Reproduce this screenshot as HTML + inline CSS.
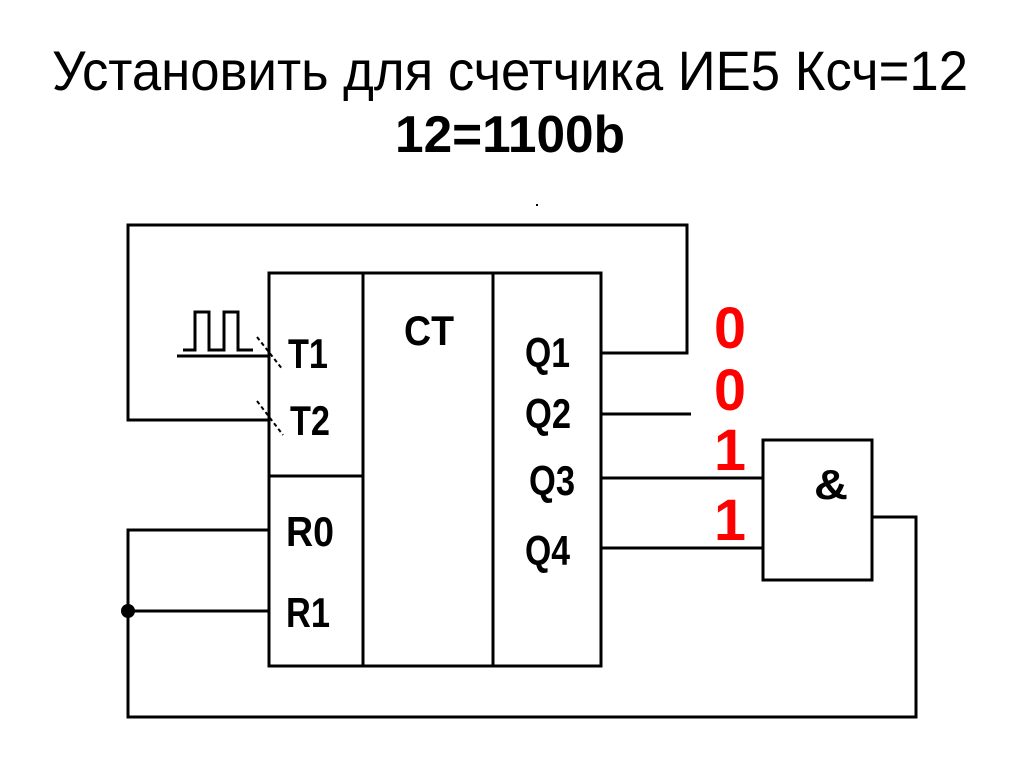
<!DOCTYPE html>
<html><head><meta charset="utf-8"><style>html,body{margin:0;padding:0;background:#fff;}svg{display:block}</style></head>
<body>
<svg width="1024" height="767" viewBox="0 0 1024 767" xmlns="http://www.w3.org/2000/svg" font-family="Liberation Sans, sans-serif">
<rect width="1024" height="767" fill="#fff"/>
<text x="52" y="90" font-size="56" textLength="916" lengthAdjust="spacingAndGlyphs">Установить для счетчика  ИЕ5  Ксч=12</text>
<text x="395" y="152" font-size="52" font-weight="bold" textLength="230" lengthAdjust="spacingAndGlyphs">12=1100b</text>
<rect x="536" y="204" width="2" height="2" fill="#000"/>
<g fill="none" stroke="#000" stroke-width="3">
<rect x="269" y="273" width="332" height="393"/>
<line x1="363" y1="273" x2="363" y2="666"/>
<line x1="493" y1="273" x2="493" y2="666"/>
<line x1="269" y1="476" x2="363" y2="476"/>
<polyline points="601,353 687,353 687,225 128,225 128,420 269,420"/>
<line x1="177" y1="356" x2="269" y2="356"/>
<polyline points="183,350 195,350 195,312 209,312 209,350 224,350 224,312 238,312 238,350 253,350"/>
<line x1="601" y1="414" x2="691" y2="414"/>
<line x1="601" y1="478" x2="763" y2="478"/>
<line x1="601" y1="548" x2="763" y2="548"/>
<rect x="763" y="440" width="109" height="140"/>
<polyline points="872,517 916,517 916,717 128,717 128,530 269,530"/>
<line x1="128" y1="611" x2="269" y2="611"/>
</g>
<g stroke="#000" stroke-width="2" stroke-dasharray="4,3">
<line x1="257" y1="337" x2="283" y2="370"/>
<line x1="257" y1="401" x2="283" y2="435"/>
</g>
<circle cx="128" cy="611" r="7" fill="#000"/>
<g font-size="42" font-weight="bold" fill="#000" lengthAdjust="spacingAndGlyphs">
<text x="288" y="368" textLength="40" lengthAdjust="spacingAndGlyphs">T1</text>
<text x="290" y="435" textLength="40" lengthAdjust="spacingAndGlyphs">T2</text>
<text x="404" y="345" textLength="50" lengthAdjust="spacingAndGlyphs">CT</text>
<text x="525" y="367" textLength="45" lengthAdjust="spacingAndGlyphs">Q1</text>
<text x="525" y="428" textLength="46" lengthAdjust="spacingAndGlyphs">Q2</text>
<text x="529" y="495" textLength="46" lengthAdjust="spacingAndGlyphs">Q3</text>
<text x="525" y="565" textLength="45" lengthAdjust="spacingAndGlyphs">Q4</text>
<text x="286" y="546" textLength="48" lengthAdjust="spacingAndGlyphs">R0</text>
<text x="286" y="627" textLength="44" lengthAdjust="spacingAndGlyphs">R1</text>
<text x="814" y="499" textLength="34" lengthAdjust="spacingAndGlyphs">&amp;</text>
</g>
<g font-size="58" font-weight="bold" fill="#f00">
<text x="714" y="348" textLength="32" lengthAdjust="spacingAndGlyphs">0</text>
<text x="714" y="410" textLength="32" lengthAdjust="spacingAndGlyphs">0</text>
<text x="714" y="470" textLength="32" lengthAdjust="spacingAndGlyphs">1</text>
<text x="714" y="540" textLength="32" lengthAdjust="spacingAndGlyphs">1</text>
</g>
</svg>
</body></html>
